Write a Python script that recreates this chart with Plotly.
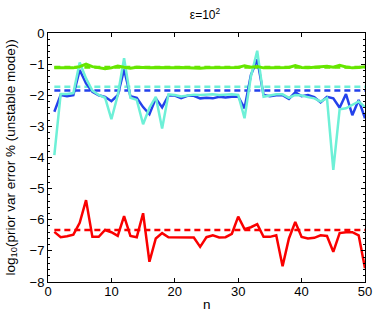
import plotly.graph_objects as go

n = list(range(1, 51))

red = [-6.39, -6.56, -6.53, -6.48, -6.10, -5.37, -6.55, -6.55, -6.33, -6.40,
       -6.52, -5.88, -6.52, -6.56, -5.79, -7.35, -6.60, -6.43, -6.56, -6.56,
       -6.55, -6.55, -6.57, -6.87, -6.56, -6.50, -6.57, -6.56, -6.45, -5.90,
       -6.30, -6.24, -6.14, -6.55, -6.55, -6.50, -7.49, -6.60, -6.07, -6.55,
       -6.60, -6.58, -6.50, -6.52, -7.03, -6.43, -6.40, -6.40, -6.50, -7.56]

blue = [-2.53, -1.99, -2.03, -2.00, -1.19, -1.62, -1.89, -2.00, -2.05, -2.19,
        -2.00, -1.17, -2.03, -2.08, -2.38, -2.61, -2.10, -2.39, -2.01, -2.01,
        -2.09, -2.02, -2.02, -2.10, -2.08, -2.10, -2.05, -2.07, -2.05, -2.04,
        -2.42, -1.35, -0.85, -1.99, -2.03, -2.00, -2.00, -2.12, -1.91, -2.03,
        -1.99, -2.06, -2.23, -2.05, -2.10, -2.40, -1.96, -2.64, -2.15, -2.74]

cyan = [-3.92, -1.96, -1.96, -1.93, -0.95, -1.46, -1.85, -1.99, -2.08, -2.77,
        -2.00, -0.81, -2.08, -2.15, -2.93, -2.40, -2.05, -3.07, -1.97, -1.99,
        -2.04, -2.00, -1.98, -1.99, -1.98, -1.97, -1.99, -1.98, -1.97, -1.99,
        -2.74, -1.40, -0.57, -2.05, -2.00, -1.97, -1.97, -2.08, -1.99, -2.01,
        -2.06, -2.10, -2.20, -2.09, -4.40, -2.45, -2.42, -2.30, -2.20, -2.38]

green = [-1.12, -1.12, -1.13, -1.12, -1.08, -1.00, -1.08, -1.12, -1.15, -1.12,
         -1.06, -1.10, -1.13, -1.10, -1.12, -1.12, -1.11, -1.12, -1.13, -1.12,
         -1.11, -1.12, -1.12, -1.13, -1.12, -1.12, -1.11, -1.10, -1.12, -1.11,
         -1.05, -1.10, -1.08, -1.12, -1.12, -1.11, -1.12, -1.11, -1.05, -1.11,
         -1.12, -1.11, -1.10, -1.07, -1.10, -1.04, -1.09, -1.12, -1.11, -1.08]

mean_green = -1.10
mean_cyan = -1.73
mean_blue = -1.85
mean_red = -6.33

x_ticks = [0, 10, 20, 30, 40, 50]
y_ticks = [0, -1, -2, -3, -4, -5, -6, -7, -8]
y_ticktext = ["0", "\u22121", "\u22122", "\u22123", "\u22124", "\u22125", "\u22126", "\u22127", "\u22128"]

c_green = "rgb(102,230,0)"
c_cyan = "rgb(110,240,215)"
c_blue = "rgb(35,65,235)"
c_red = "rgb(250,0,0)"

FONT = "Liberation Sans"

fig = go.Figure()

def dashed(val, color, width):
    fig.add_trace(go.Scatter(x=[1, 50], y=[val, val], mode="lines",
                             line=dict(color=color, width=width, dash="6px,4px"),
                             showlegend=False, hoverinfo="skip"))

dashed(mean_cyan, c_cyan, 2.5)
dashed(mean_blue, c_blue, 2.5)
dashed(mean_red, c_red, 2.5)
dashed(mean_green, c_green, 3)

fig.add_trace(go.Scatter(x=n, y=blue, mode="lines", line=dict(color=c_blue, width=2.5), showlegend=False))
fig.add_trace(go.Scatter(x=n, y=cyan, mode="lines", line=dict(color=c_cyan, width=2.5), showlegend=False))
fig.add_trace(go.Scatter(x=n, y=green, mode="lines", line=dict(color=c_green, width=3), showlegend=False))
fig.add_trace(go.Scatter(x=n, y=red, mode="lines", line=dict(color=c_red, width=2.5), showlegend=False))

axis_common = dict(showgrid=False, zeroline=False, showline=True, linecolor="black",
                   linewidth=1, mirror="ticks", ticks="inside", ticklen=4,
                   tickcolor="black", tickfont=dict(family=FONT, size=13, color="black"))

fig.update_xaxes(range=[0, 50], tickvals=x_ticks, ticklabelstandoff=-3,
                 **axis_common)
fig.update_yaxes(range=[-8, 0], tickvals=y_ticks, ticktext=y_ticktext,
                 minor=dict(ticks="inside", ticklen=2, dtick=0.2, tickcolor="black", showgrid=False),
                 **axis_common)

fig.add_annotation(text="log<sub>10</sub>(prior var error % (unstable mode))",
                   xref="paper", yref="paper", x=0, y=0.5, xanchor="center", yanchor="middle",
                   xshift=-37, textangle=-90, showarrow=False,
                   font=dict(family=FONT, size=13.5, color="black"))
fig.add_annotation(text="n", xref="paper", yref="paper", x=0.5, y=0, xanchor="center",
                   yanchor="middle", yshift=-22, showarrow=False,
                   font=dict(family=FONT, size=13.5, color="black"))

fig.update_layout(
    width=382, height=317,
    margin=dict(l=48, r=10, t=33, b=35),
    paper_bgcolor="white", plot_bgcolor="white",
    title=dict(text="\u03b5=10<sup>2</sup>", x=205 / 382, xanchor="center",
               y=1 - 15 / 317, yanchor="middle",
               font=dict(family=FONT, size=12, color="black")),
)

fig.write_html("out.html", config={"displayModeBar": False},
               post_script="document.body.style.margin='0';")
